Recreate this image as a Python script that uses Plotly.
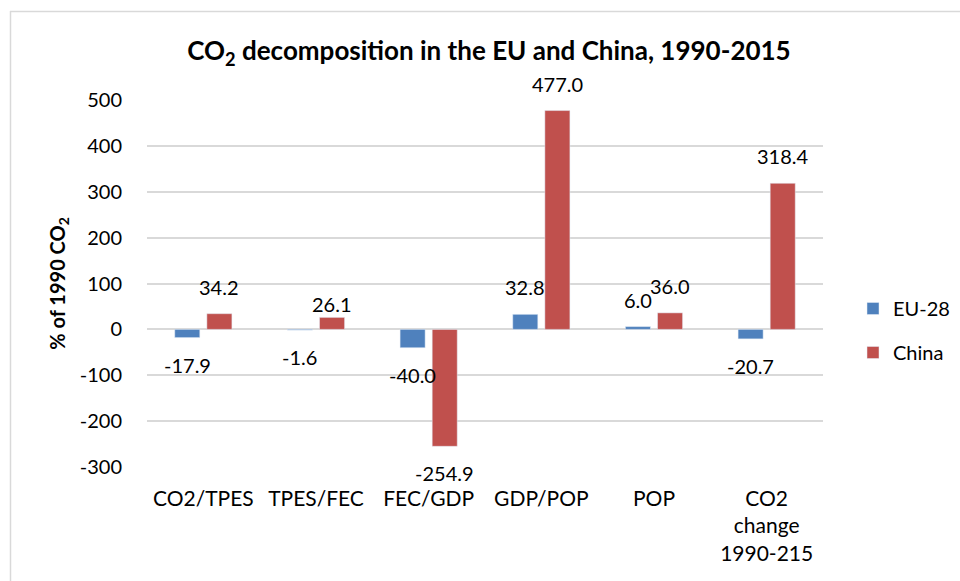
import plotly.graph_objects as go

# Decomposition factors (% of 1990 CO2 emissions)
categories = ["CO2/TPES", "TPES/FEC", "FEC/GDP", "GDP/POP", "POP", "CO2<br>change<br>1990-215"]
eu28 = [-17.9, -1.6, -40.0, 32.8, 6.0, -20.7]
china = [34.2, 26.1, -254.9, 477.0, 36.0, 318.4]
y_ticks = [-300, -200, -100, 0, 100, 200, 300, 400, 500]

# extra vertical nudge (px) for individual value labels
eu28_nudge = [0, 0, 0, 0, 0, 0]
china_nudge = [0, -14, 0, 0, 0, 0]

BLUE = "#4F81BD"
RED = "#C0504D"
GRID = "#D9D9D9"
FONT = "Lato, 'Open Sans', sans-serif"

W, H = 960, 581
ML, MR, MT, MB = 147, 137, 100, 114
BARGAP = 0.43
BARGROUPGAP = 0.22

fig = go.Figure()
fig.add_trace(go.Bar(name="EU-28", x=categories, y=eu28, marker_color=BLUE,
                     legendgroup="eu"))
fig.add_trace(go.Bar(name="China", x=categories, y=china, marker_color=RED,
                     legendgroup="cn"))

# value labels placed beyond the end of each bar
offset = (1 - BARGAP) / 4
annotations = []
for series, nudges, sign in ((eu28, eu28_nudge, -1), (china, china_nudge, 1)):
    for i, (v, n) in enumerate(zip(series, nudges)):
        annotations.append(dict(
            x=i + sign * offset, y=v, xref="x", yref="y",
            text=f"{v:.1f}", showarrow=False,
            yanchor="bottom" if v >= 0 else "top",
            yshift=(13 if v >= 0 else -13) + n,
            font=dict(family=FONT, size=20, color="#000000"),
        ))

# pixel -> paper helpers for the chart frame
pw = W - ML - MR
ph = H - MT - MB
def px_x(p):
    return (p - ML) / pw
def px_y(p):
    return (H - MB - p) / ph

shapes = [
    dict(type="line", xref="paper", yref="paper",
         x0=px_x(10), x1=px_x(965), y0=px_y(11.5), y1=px_y(11.5),
         line=dict(color=GRID, width=1.5)),
    dict(type="line", xref="paper", yref="paper",
         x0=px_x(10.5), x1=px_x(10.5), y0=px_y(11), y1=px_y(590),
         line=dict(color=GRID, width=1.5)),
]

fig.update_layout(
    width=W, height=H,
    margin=dict(l=ML, r=MR, t=MT, b=MB, autoexpand=False),
    paper_bgcolor="white", plot_bgcolor="white",
    barmode="group", bargap=BARGAP, bargroupgap=BARGROUPGAP,
    font=dict(family=FONT, size=20, color="#000000"),
    title=dict(text="<b>CO<sub>2</sub> decomposition in the EU and China, 1990-2015</b>",
               x=489 / W, xanchor="center",
               y=1 - 51 / H, yanchor="middle",
               font=dict(family=FONT, size=26, color="#000000")),
    xaxis=dict(type="category", showgrid=False, showline=False, zeroline=False,
               ticks="", ticklabelstandoff=17, automargin=False,
               tickfont=dict(family=FONT, size=21)),
    yaxis=dict(range=[-300, 500], tickvals=y_ticks,
               ticktext=[str(t) for t in y_ticks],
               showgrid=True, gridcolor=GRID, automargin=False,
               gridwidth=1.5, zeroline=True, zerolinecolor=GRID, zerolinewidth=1.5,
               showline=False, ticks="", ticklabelstandoff=24,
               tickfont=dict(family=FONT, size=20),
               title=dict(text="<b>% of 1990 CO<sub>2</sub></b>", standoff=8,
                          font=dict(family=FONT, size=20))),
    legend=dict(x=px_x(853), xanchor="left", y=px_y(289), yanchor="top",
                tracegroupgap=15, font=dict(family=FONT, size=20),
                bgcolor="rgba(0,0,0,0)"),
    annotations=annotations,
    shapes=shapes,
)

fig.write_html("out.html")
